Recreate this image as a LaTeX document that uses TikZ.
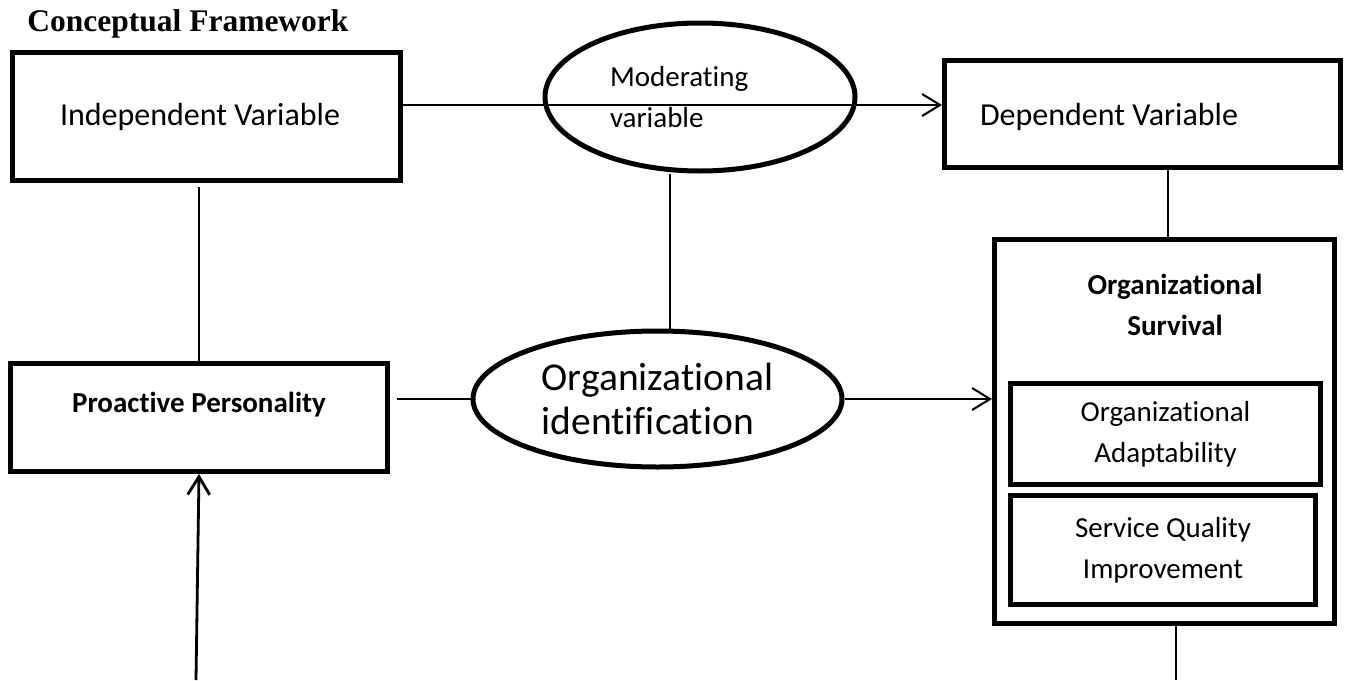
\documentclass[tikz,border=0pt]{standalone}
\usepackage{fontspec}
\setmainfont{Carlito}[Ligatures=NoCommon]
\newfontfamily\titlefont{Liberation Serif}
\usepackage{tikz}
\usetikzlibrary{positioning,arrows.meta,shapes.geometric}

\begin{document}
\begin{tikzpicture}[x=0.5pt, y=-0.5pt,
    varbox/.style={draw, rectangle, line width=2.5pt, inner sep=0pt},
    varoval/.style={draw, ellipse, line width=2.5pt, inner sep=0pt},
    link/.style={line width=1pt},
    arr/.style={line width=1pt, -{Straight Barb[length=9pt,width=11pt]}},
    txt/.style={font=\fontsize{14.5}{20.5}\selectfont},
    boldtxt/.style={font=\bfseries\fontsize{14.5}{20.5}\selectfont}]
    \useasboundingbox (0,0) rectangle (1348,680);
    \node[anchor=base west, inner sep=0pt, font=\titlefont\bfseries\fontsize{15.75}{18}\selectfont] (title) at (27,32) {Conceptual Framework};
    \node[varbox, minimum width=194pt, minimum height=64pt, text width=146.5pt, align=flush left, font=\fontsize{16}{19}\selectfont] (iv) at (206.5,116.5) {Independent Variable};
    \node[varbox, minimum width=198pt, minimum height=53.5pt, text width=162.5pt, align=flush left, text height=14.5pt, text depth=3.5pt, font=\fontsize{16}{19}\selectfont] (dv) at (1142.5,114) {Dependent Variable};
    \node[varoval, minimum width=155pt, minimum height=74pt, text width=90pt, align=flush left, txt] (mod) at (700,97) {Moderating\\variable};
    \node[varbox, minimum width=188.5pt, minimum height=54pt, text height=10.5pt, text depth=16pt, boldtxt] (pp) at (199,417.5) {Proactive Personality};
    \node[varoval, minimum width=184.5pt, minimum height=68pt, align=left, font=\fontsize{19.75}{22}\selectfont] (oi) at (657.5,399) {Organizational\\identification};
    \node[varbox, minimum width=170pt, minimum height=191.75pt] (surv) at (1164.5,431.25) {};
    \node[anchor=north, inner sep=0pt, align=center, boldtxt] (survtitle) at (1175,274) {Organizational\\Survival};
    \node[varbox, minimum width=155pt, minimum height=50.5pt, align=center, txt] (adapt) at (1165.5,434) {Organizational\\Adaptability};
    \node[varbox, minimum width=152.5pt, minimum height=54.5pt, align=center, txt] (sqi) at (1163,550) {Service Quality\\Improvement};
    \coordinate (flow) at (0,105);
    \coordinate (outR) at (1176,680);
    \coordinate (inL) at (196,680);
    \draw[arr] (iv.east |- flow) -- (dv.west |- flow);
    \draw[link] ([xshift=6.25pt]oi.north) -- ([xshift=6.25pt]oi.north |- mod.south);
    \draw[link] ([yshift=-2pt]pp.north |- iv.south) -- (pp.north);
    \draw[link] ([xshift=3.5pt]pp.east |- oi.west) -- (oi.west);
    \draw[arr] (oi.east) -- (oi.east -| surv.west);
    \draw[link] ([xshift=1.75pt]surv.north) -- ([xshift=1.75pt]surv.north |- dv.south);
    \draw[link] (outR |- surv.south) -- (outR);
    \draw[arr, line width=1.4pt] (inL) -- (pp.south);
\end{tikzpicture}
\end{document}
